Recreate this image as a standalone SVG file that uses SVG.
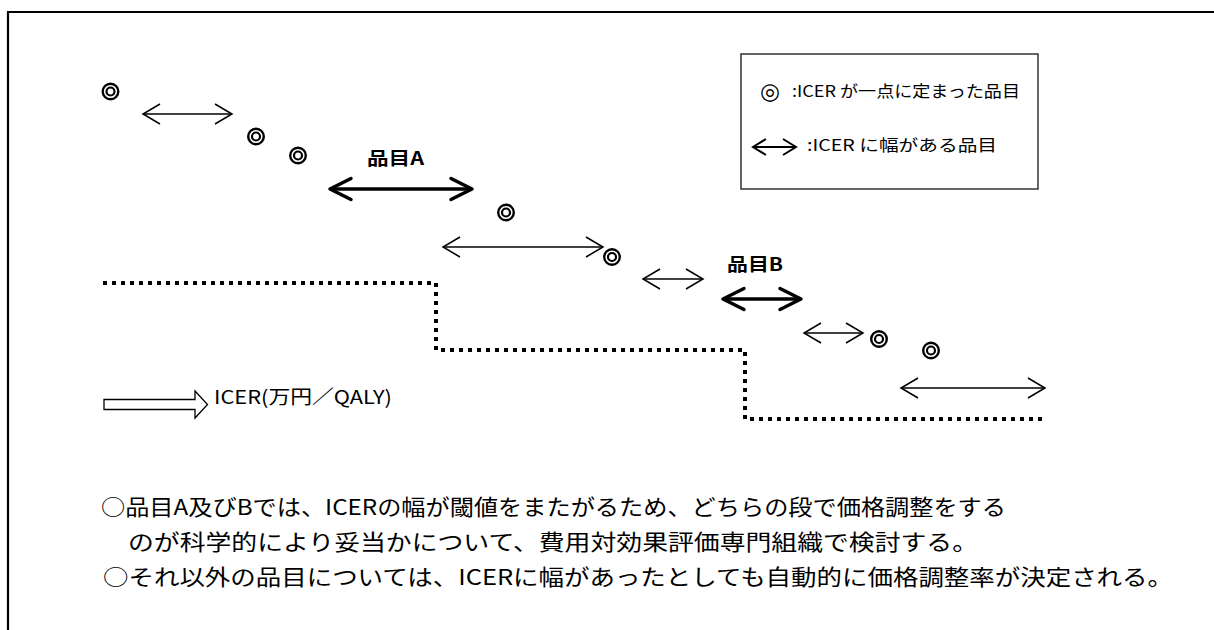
<svg xmlns="http://www.w3.org/2000/svg" width="1214" height="630" viewBox="0 0 1214 630">
<style>
.t{font-family:"Noto Sans CJK JP","Noto Sans",sans-serif;fill:#000}
.thin{stroke:#000;stroke-width:1.5;fill:none}
.thick{stroke:#000;stroke-width:3.5;fill:none}
.dot{stroke:#000;stroke-width:4;fill:none;stroke-dasharray:4 5}
.ring{stroke:#000;fill:none}
</style>
<defs>
<marker id="hThin" viewBox="-19 -12 21 24" refX="0" refY="0" markerWidth="21" markerHeight="24" orient="auto-start-reverse" markerUnits="userSpaceOnUse">
<path d="M-17,-10 L0,0 L-17,10" fill="none" stroke="#000" stroke-width="1.5"/>
</marker>
<marker id="hSmall" viewBox="-15 -10 17 20" refX="0" refY="0" markerWidth="17" markerHeight="20" orient="auto-start-reverse" markerUnits="userSpaceOnUse">
<path d="M-13,-8 L0,0 L-13,8" fill="none" stroke="#000" stroke-width="2"/>
</marker>
<marker id="hThick" viewBox="-25 -14 28 28" refX="0" refY="0" markerWidth="28" markerHeight="28" orient="auto-start-reverse" markerUnits="userSpaceOnUse">
<path d="M-21,-10.5 L0,0 L-21,10.5" fill="none" stroke="#000" stroke-width="3.5" stroke-linejoin="round" stroke-linecap="round"/>
</marker>
<g id="dc"><circle r="7.8" class="ring" stroke-width="2.4"/><circle r="4" class="ring" stroke-width="2.2"/></g>
</defs>
<rect width="1214" height="630" fill="#fff"/>
<path d="M8,630 V12 H1214" fill="none" stroke="#000" stroke-width="2.2"/>

<g id="points">
<use href="#dc" x="110.5" y="91.5"/>
<use href="#dc" x="256" y="136.5"/>
<use href="#dc" x="298" y="155.5"/>
<use href="#dc" x="506" y="212.5"/>
<use href="#dc" x="612" y="257"/>
<use href="#dc" x="879" y="339"/>
<use href="#dc" x="931" y="350.5"/>
</g>

<g id="connectors">
<line class="thin" x1="143" y1="114" x2="232" y2="114" marker-start="url(#hThin)" marker-end="url(#hThin)"/>
<line class="thin" x1="443" y1="247" x2="603" y2="247" marker-start="url(#hThin)" marker-end="url(#hThin)"/>
<line class="thin" x1="643" y1="279" x2="703" y2="279" marker-start="url(#hThin)" marker-end="url(#hThin)"/>
<line class="thin" x1="804" y1="333" x2="863" y2="333" marker-start="url(#hThin)" marker-end="url(#hThin)"/>
<line class="thin" x1="901" y1="388" x2="1045" y2="388" marker-start="url(#hThin)" marker-end="url(#hThin)"/>
<line class="thick" x1="330" y1="189" x2="472" y2="189" marker-start="url(#hThick)" marker-end="url(#hThick)"/>
<line class="thick" x1="723" y1="299" x2="801" y2="299" marker-start="url(#hThick)" marker-end="url(#hThick)"/>
</g>

<g id="itemA"><text class="t" x="367" y="165" font-size="18" font-weight="bold" textLength="57" lengthAdjust="spacingAndGlyphs">品目A</text></g>
<g id="itemB"><text class="t" x="727" y="271" font-size="18" font-weight="bold" textLength="56" lengthAdjust="spacingAndGlyphs">品目B</text></g>

<g id="threshold">
<path class="dot" d="M103,283 H436 V350 H745 V419 H1046"/>
</g>

<g id="axis">
<polygon points="104,399.5 195,399.5 195,391 207.5,404.5 195,418 195,409.5 104,409.5" fill="#fff" stroke="#000" stroke-width="1.3"/>
<text class="t" x="214" y="404" font-size="19" textLength="178" lengthAdjust="spacingAndGlyphs">ICER(万円／QALY)</text>
</g>

<g id="legend">
<rect x="741" y="54" width="297" height="135" fill="#fff" stroke="#333" stroke-width="1.5"/>
<text x="760" y="99" font-size="23" font-family="'DejaVu Sans',sans-serif" fill="#000">◎</text>
<text class="t" x="792" y="97" font-size="16" textLength="228" lengthAdjust="spacingAndGlyphs">:ICER が一点に定まった品目</text>
<line x1="753" y1="147" x2="796" y2="147" stroke="#000" stroke-width="2" marker-start="url(#hSmall)" marker-end="url(#hSmall)"/>
<text class="t" x="807" y="151" font-size="16" textLength="190" lengthAdjust="spacingAndGlyphs">:ICER に幅がある品目</text>
</g>

<g id="notes">
<text class="t" x="101" y="515" font-size="22" textLength="905" lengthAdjust="spacingAndGlyphs">○品目A及びBでは、ICERの幅が閾値をまたがるため、どちらの段で価格調整をする</text>
<text class="t" x="128" y="550" font-size="22" textLength="850" lengthAdjust="spacingAndGlyphs">のが科学的により妥当かについて、費用対効果評価専門組織で検討する。</text>
<text class="t" x="103" y="585" font-size="22" textLength="1070" lengthAdjust="spacingAndGlyphs">○それ以外の品目については、ICERに幅があったとしても自動的に価格調整率が決定される。</text>
</g>
</svg>
